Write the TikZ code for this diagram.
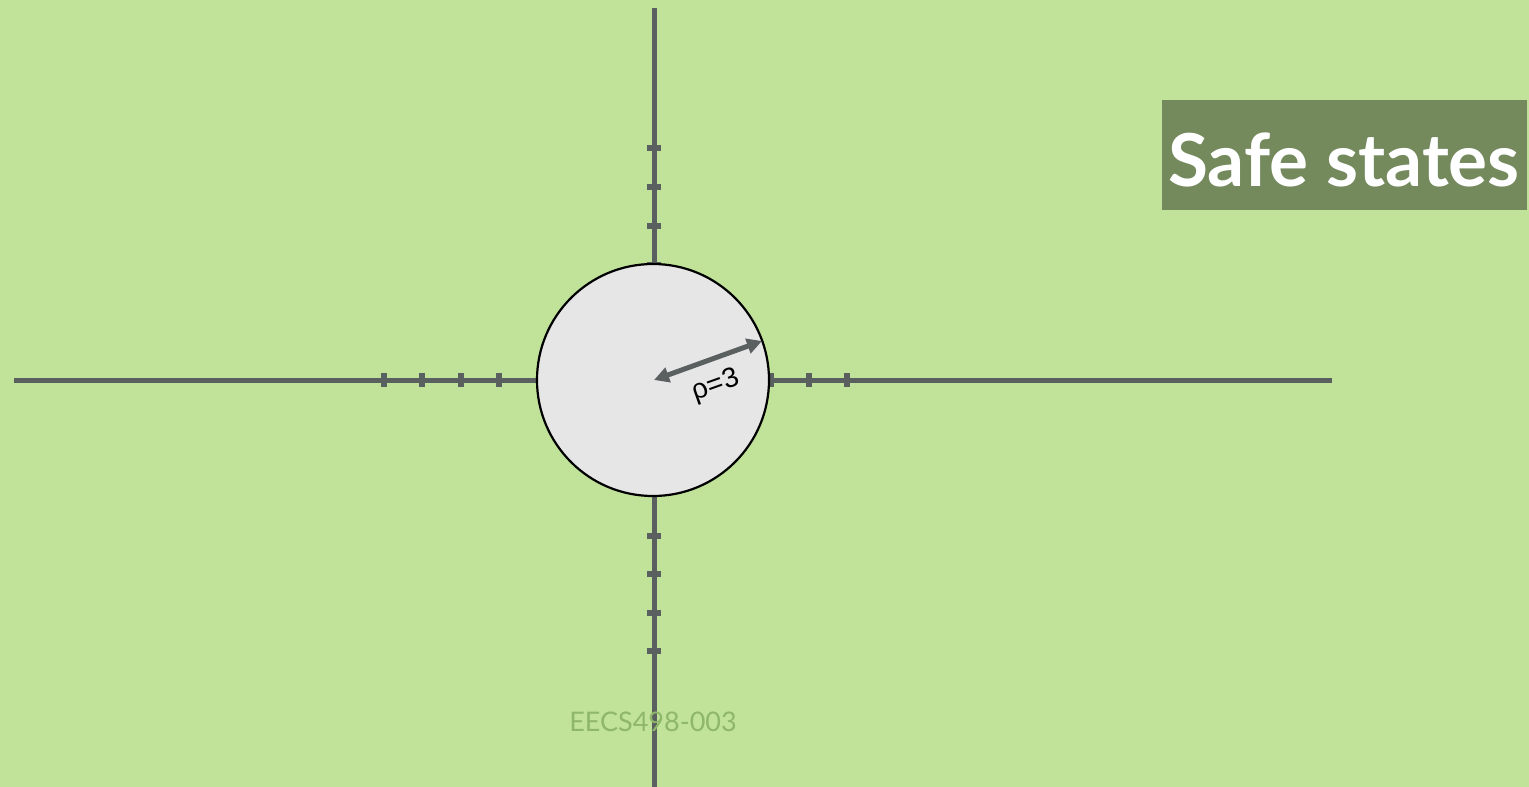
\documentclass[tikz,border=0pt]{standalone}
\usepackage{fontspec}
\setmainfont{Lato}
\newfontfamily\armo{Liberation Sans}
\usetikzlibrary{arrows.meta}
\definecolor{bg}{RGB}{192,227,153}
\definecolor{titlebg}{RGB}{116,137,92}
\definecolor{axis}{RGB}{90,95,95}
\definecolor{disc}{RGB}{230,230,230}
\definecolor{foot}{RGB}{143,183,106}
\tikzset{
  axisline/.style={draw=axis, line width=5pt},
  tickmark/.style={draw=axis, line width=6pt},
  radarrow/.style={draw=axis, line width=5pt, {Triangle[length=15pt,width=15pt]}-{Triangle[length=15pt,width=15pt]}},
}
\begin{document}
\begin{tikzpicture}[x=1pt,y=-1pt]
\fill[bg] (0,0) rectangle (1529,787);
\useasboundingbox (0,0) rectangle (1529,787);
% axes
\coordinate (L) at (14,380);
\coordinate (R) at (1332,380);
\coordinate (T) at (654,8);
\coordinate (B) at (654,787);
\draw[axisline] (L) -- (R);
\draw[axisline] (T) -- (B);
% ticks
\foreach \x in {384,422,461,499,771,809,847} {
  \draw[tickmark] (\x,373) -- (\x,387);
}
\foreach \y in {148,187,226,265,536,574,613,651} {
  \draw[tickmark] (647,\y) -- (661,\y);
}
% disc
\node[circle, fill=disc, draw=black, line width=2.2pt, minimum size=232pt, inner sep=0pt] (C) at (653,380) {};
\coordinate (A1) at (654,380);
\coordinate (A2) at (762,341);
\draw[radarrow] (A1) -- (A2);
\node[rotate=19.7, font=\armo\fontsize{28}{28}\selectfont, inner sep=0pt] (rho) at (716,386) {ρ=3};
% title
\node[fill=titlebg, minimum width=365pt, minimum height=110pt, inner sep=0pt] (title) at (1344.5,155) {};
\node[text=white, font=\bfseries\fontsize{73}{73}\selectfont, inner sep=0pt, anchor=base] (titletext) at (1344,186) {Safe states};
% footer
\node[text=foot, font=\fontsize{27}{27}\selectfont, inner sep=0pt] (footer) at (653,722) {EECS498-003};
\end{tikzpicture}
\end{document}
